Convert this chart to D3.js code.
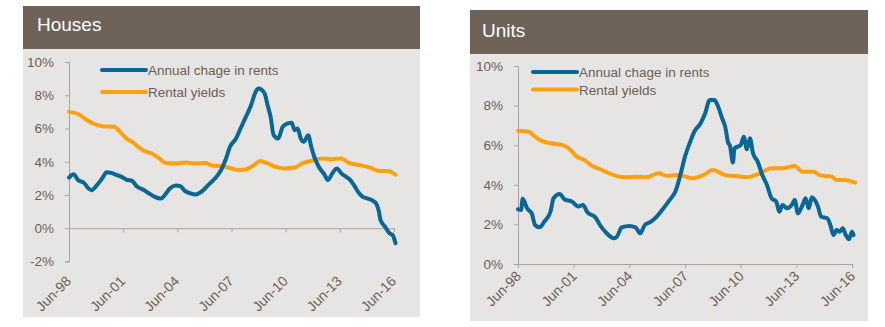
<!DOCTYPE html>
<html>
<head>
<meta charset="utf-8">
<script src="https://cdn.jsdelivr.net/npm/d3@7"></script>
<style>
  body { margin: 0; background: #fff; font-family: "Liberation Sans", Arial, sans-serif; }
</style>
</head>
<body>
<svg id="chart" width="885" height="327"></svg>
<script>
// x positions are months since Jun-98
const tickMonths = [0, 36, 72, 108, 144, 180, 216];
const tickLabels = ["Jun-98", "Jun-01", "Jun-04", "Jun-07", "Jun-10", "Jun-13", "Jun-16"];
const seriesNames = ["Annual chage in rents", "Rental yields"];

// Houses
const housesRentMonths = [0, 3, 6, 10, 13, 15, 18, 22, 25, 28, 32, 35, 38, 42, 45, 50, 54, 57, 61, 64, 67, 71, 74, 77, 81, 84, 87, 91, 94, 97, 101, 104, 107, 111, 114, 117, 121, 124, 126, 130, 132, 134, 136, 139, 142, 145, 148, 150, 152, 154, 156, 159, 161, 163, 166, 170, 172, 175, 178, 181, 184, 187, 190, 192, 195, 198, 202, 204, 206, 207, 210, 213, 215, 217];
const housesRentValues = [3.05, 3.25, 2.9, 2.73, 2.39, 2.29, 2.53, 2.99, 3.37, 3.33, 3.19, 3.09, 2.93, 2.85, 2.53, 2.29, 2.05, 1.89, 1.79, 2.03, 2.39, 2.57, 2.53, 2.25, 2.09, 2.03, 2.13, 2.45, 2.73, 2.99, 3.49, 4.1, 4.9, 5.4, 6.0, 6.6, 7.4, 8.2, 8.4, 8.1, 7.4, 6.7, 5.6, 5.4, 6.1, 6.3, 6.35, 5.9, 6.0, 5.4, 5.2, 5.6, 4.9, 4.3, 3.7, 3.2, 2.9, 3.3, 3.6, 3.3, 3.1, 2.9, 2.5, 2.2, 1.9, 1.8, 1.65, 1.5, 1.0, 0.5, 0.1, -0.3, -0.4, -0.9];
const housesYieldMonths = [0, 6, 12, 16, 22, 30, 34, 38, 42, 46, 50, 55, 60, 64, 71, 78, 83, 91, 95, 102, 108, 113, 117, 123, 127, 132, 137, 143, 150, 155, 161, 168, 174, 181, 186, 193, 200, 206, 212, 217];
const housesYieldValues = [7.0, 6.87, 6.5, 6.3, 6.14, 6.1, 5.8, 5.4, 5.2, 4.9, 4.65, 4.5, 4.2, 3.93, 3.9, 3.96, 3.9, 3.93, 3.78, 3.73, 3.6, 3.5, 3.53, 3.8, 4.05, 3.9, 3.7, 3.6, 3.65, 3.9, 4.05, 4.2, 4.15, 4.2, 3.93, 3.8, 3.65, 3.45, 3.45, 3.23];

// Units
const unitsRentMonths = [0, 2, 3, 6, 9, 11, 14, 17, 21, 23, 27, 30, 35, 39, 42, 45, 50, 53, 57, 62, 64, 67, 72, 76, 79, 82, 86, 90, 94, 98, 102, 105, 108, 111, 114, 118, 121, 124, 127, 129, 132, 134, 136, 137, 139, 140, 144, 146, 148, 150, 152, 155, 158, 161, 164, 167, 169, 171, 174, 177, 179, 181, 184, 186, 188, 190, 192, 194, 196, 200, 202, 204, 206, 208, 210, 212, 214, 216, 217];
const unitsRentValues = [2.76, 2.73, 3.3, 2.8, 2.53, 1.97, 1.85, 2.14, 2.64, 3.32, 3.53, 3.27, 3.15, 2.9, 2.98, 2.6, 2.36, 1.97, 1.58, 1.3, 1.38, 1.85, 1.92, 1.85, 1.55, 1.97, 2.14, 2.42, 2.81, 3.23, 3.7, 4.5, 5.42, 6.1, 6.68, 7.1, 7.6, 8.28, 8.28, 8.03, 7.36, 6.93, 6.1, 6.0, 5.12, 5.84, 6.0, 6.43, 5.79, 6.35, 5.59, 5.17, 4.49, 3.99, 3.32, 3.15, 2.64, 2.98, 2.81, 2.98, 3.23, 2.56, 2.98, 3.32, 2.81, 3.37, 3.23, 2.9, 2.39, 2.31, 1.97, 1.46, 1.72, 1.63, 1.8, 1.46, 1.25, 1.63, 1.46];
const unitsYieldMonths = [0, 7, 11, 15, 21, 29, 34, 38, 43, 48, 53, 58, 64, 69, 77, 83, 91, 96, 103, 107, 113, 120, 126, 134, 141, 148, 155, 164, 171, 179, 184, 191, 195, 203, 206, 211, 218];
const unitsYieldValues = [6.73, 6.68, 6.43, 6.23, 6.1, 6.0, 5.76, 5.42, 5.25, 4.95, 4.8, 4.61, 4.44, 4.38, 4.41, 4.38, 4.58, 4.46, 4.49, 4.44, 4.33, 4.49, 4.75, 4.49, 4.44, 4.38, 4.53, 4.83, 4.83, 4.95, 4.66, 4.66, 4.49, 4.41, 4.24, 4.24, 4.11];

const blue = "#096795", orange = "#ffa011";
const headColor = "#6e6259", bgColor = "#e7e5e3", textColor = "#6b5f57", axisColor = "#a9a4a0";

const svg = d3.select("#chart");

function drawPanel(p) {
  const g = svg.append("g");

  // panel background + header
  g.append("rect").attr("x", p.left).attr("y", p.headTop)
    .attr("width", p.right - p.left).attr("height", p.bottom - p.headTop).attr("fill", bgColor);
  g.append("rect").attr("x", p.left).attr("y", p.headTop)
    .attr("width", p.right - p.left).attr("height", p.headBottom - p.headTop).attr("fill", headColor);
  g.append("text").attr("x", p.titleX).attr("y", p.titleY)
    .attr("fill", "#fff").style("font-size", "19px").text(p.title);

  const x = d3.scaleLinear().domain([0, 216]).range(p.xRange);
  const y = d3.scaleLinear().domain(p.yDomain).range(p.yRange);

  // y axis
  const yAxis = g.append("g").attr("transform", `translate(${p.xRange[0]},0)`)
    .call(d3.axisLeft(y).tickValues(d3.range(p.yDomain[0], p.yDomain[1] + 1, 2))
      .tickSize(4).tickPadding(11).tickFormat(d => d + "%"));
  yAxis.selectAll("path, line").attr("stroke", axisColor);
  yAxis.selectAll("text").attr("fill", textColor).style("font-size", "13.5px")
    .style("font-family", "Liberation Sans, Arial, sans-serif");

  // x axis line at 0%
  const xAxis = g.append("g").attr("transform", `translate(0,${y(0)})`)
    .call(d3.axisBottom(x).tickValues(tickMonths).tickSize(4).tickSizeOuter(0).tickFormat(""));
  xAxis.selectAll("path, line").attr("stroke", axisColor);

  // rotated date labels under the plot
  g.selectAll(".xl").data(tickMonths).enter().append("text")
    .attr("transform", (d, i) => `translate(${x(d) + p.labelDx},${p.labelY}) rotate(-45)`)
    .attr("text-anchor", "end").attr("fill", textColor).style("font-size", "14px")
    .text((d, i) => tickLabels[i]);

  const line = d3.line().x(d => x(d[0])).y(d => y(d[1])).curve(d3.curveMonotoneX);
  const series = [
    { months: p.yieldMonths, values: p.yieldValues, color: orange },
    { months: p.rentMonths, values: p.rentValues, color: blue }
  ];
  series.forEach(s => {
    g.append("path").datum(d3.zip(s.months, s.values))
      .attr("d", line).attr("fill", "none").attr("stroke", s.color)
      .attr("stroke-width", 4).attr("stroke-linejoin", "round").attr("stroke-linecap", "round");
  });

  // legend
  [blue, orange].forEach((c, i) => {
    const ly = p.legendY[i];
    g.append("line").attr("x1", p.legendX).attr("x2", p.legendX + 44)
      .attr("y1", ly).attr("y2", ly).attr("stroke", c).attr("stroke-width", 4).attr("stroke-linecap", "round");
    g.append("text").attr("x", p.legendX + 46).attr("y", ly + 5)
      .attr("fill", textColor).style("font-size", "13.5px").text(seriesNames[i]);
  });
}

drawPanel({
  title: "Houses", left: 23, right: 420, headTop: 6, headBottom: 49, bottom: 317,
  titleX: 37, titleY: 31,
  xRange: [69, 394], yDomain: [-2, 10], yRange: [261.5, 62],
  labelDx: 3, labelY: 282,
  legendX: 102, legendY: [70, 92],
  rentMonths: housesRentMonths, rentValues: housesRentValues,
  yieldMonths: housesYieldMonths, yieldValues: housesYieldValues
});

drawPanel({
  title: "Units", left: 470, right: 868, headTop: 10, headBottom: 54, bottom: 321,
  titleX: 482, titleY: 37,
  xRange: [518, 852], yDomain: [0, 10], yRange: [264, 66],
  labelDx: 4, labelY: 277,
  legendX: 533, legendY: [72, 89.5],
  rentMonths: unitsRentMonths, rentValues: unitsRentValues,
  yieldMonths: unitsYieldMonths, yieldValues: unitsYieldValues
});
</script>
</body>
</html>
